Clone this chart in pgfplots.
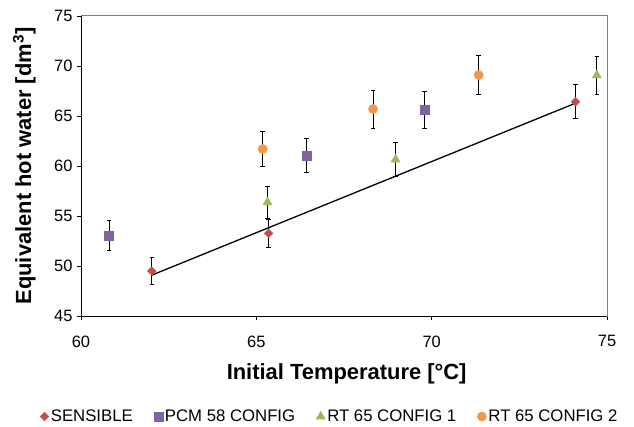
\documentclass[border=0pt]{standalone}
\usepackage{pgfplots}
\pgfplotsset{compat=1.18}
\usepackage{fontspec}
\setmainfont{Liberation Sans}
\definecolor{cRed}{HTML}{C0504D}
\definecolor{cPurple}{HTML}{8064A2}
\definecolor{cGreen}{HTML}{9BBB59}
\definecolor{cOrange}{HTML}{F79646}
\begin{document}
\begin{tikzpicture}[x=1bp,y=1bp]
\useasboundingbox (0,0) rectangle (634,426);
\begin{axis}[
  at={(81bp,110bp)}, anchor=south west,
  scale only axis, width=526bp, height=300bp,
  xmin=60, xmax=75, ymin=45, ymax=75,
  xtick={60,65,70,75}, ytick={45,50,...,75},
  minor tick num=0,
  tick align=outside, xtick pos=bottom, ytick pos=left,
  major tick length=4bp,
  tick style={black, line width=0.8bp},
  axis line style={draw=gray, line width=1bp},
  ticklabel style={font=\fontsize{16.5}{19}\selectfont},
  /pgf/number format/assume math mode=true,
  xticklabel style={anchor=north, yshift=-12bp},
  yticklabel style={xshift=-1bp},
  xlabel={Initial Temperature [°C]},
  ylabel={Equivalent hot water [dm\textsuperscript{3}]},
  label style={font=\bfseries\fontsize{22}{26}\selectfont},
  xlabel style={at={(axis description cs:0.505,-0.193)}, anchor=center},
  ylabel style={at={(axis description cs:-0.108,0.5)}, anchor=center},
  legend columns=4,
  legend style={at={(axis description cs:0.473,-0.335)}, anchor=center, draw=none, fill=none,
    font=\fontsize{16.8}{19}\selectfont, inner sep=0pt,
    /tikz/every even column/.append style={column sep=19bp}},
  legend cell align=left,
  error bars/error bar style={black, line width=1bp},
  error bars/error mark options={rotate=90, mark size=2.2bp, line width=1bp, black},
  clip=false,
]
\draw[black, line width=1bp] (rel axis cs:0,1) -- (rel axis cs:0,0) -- (rel axis cs:1,0);
\addplot[only marks, mark=square*, mark size=3.1bp, mark options={rotate=45, fill=cRed, draw=cRed},
  error bars/.cd, y dir=both, y explicit]
  coordinates {(62.02,49.5) +- (0,1.35) (65.35,53.27) +- (0,1.42) (74.1,66.43) +- (0,1.68)};
\addlegendentry{SENSIBLE}
\addplot[only marks, mark=square*, mark size=4.6bp, mark options={fill=cPurple, draw=cPurple},
  error bars/.cd, y dir=both, y explicit]
  coordinates {(60.8,53.07) +- (0,1.52) (66.43,61.07) +- (0,1.73) (69.79,65.6) +- (0,1.85)};
\addlegendentry{PCM 58 CONFIG}
\addplot[only marks, mark=triangle*, mark size=5.3bp, mark options={fill=cGreen, draw=cGreen},
  error bars/.cd, y dir=both, y explicit]
  coordinates {(65.32,56.37) +- (0,1.6) (68.97,60.65) +- (0,1.72) (74.71,69.08) +- (0,1.9)};
\addlegendentry{RT 65 CONFIG 1}
\addplot[only marks, mark=*, mark size=4.6bp, mark options={fill=cOrange, draw=cOrange},
  error bars/.cd, y dir=both, y explicit]
  coordinates {(65.18,61.7) +- (0,1.78) (68.33,65.7) +- (0,1.9) (71.34,69.1) +- (0,1.98)};
\addlegendentry{RT 65 CONFIG 2}
\addplot[black, line width=1.3bp, no marks, forget plot] coordinates {(62.02,49.09) (74.1,66.28)};
\end{axis}
\end{tikzpicture}
\end{document}
